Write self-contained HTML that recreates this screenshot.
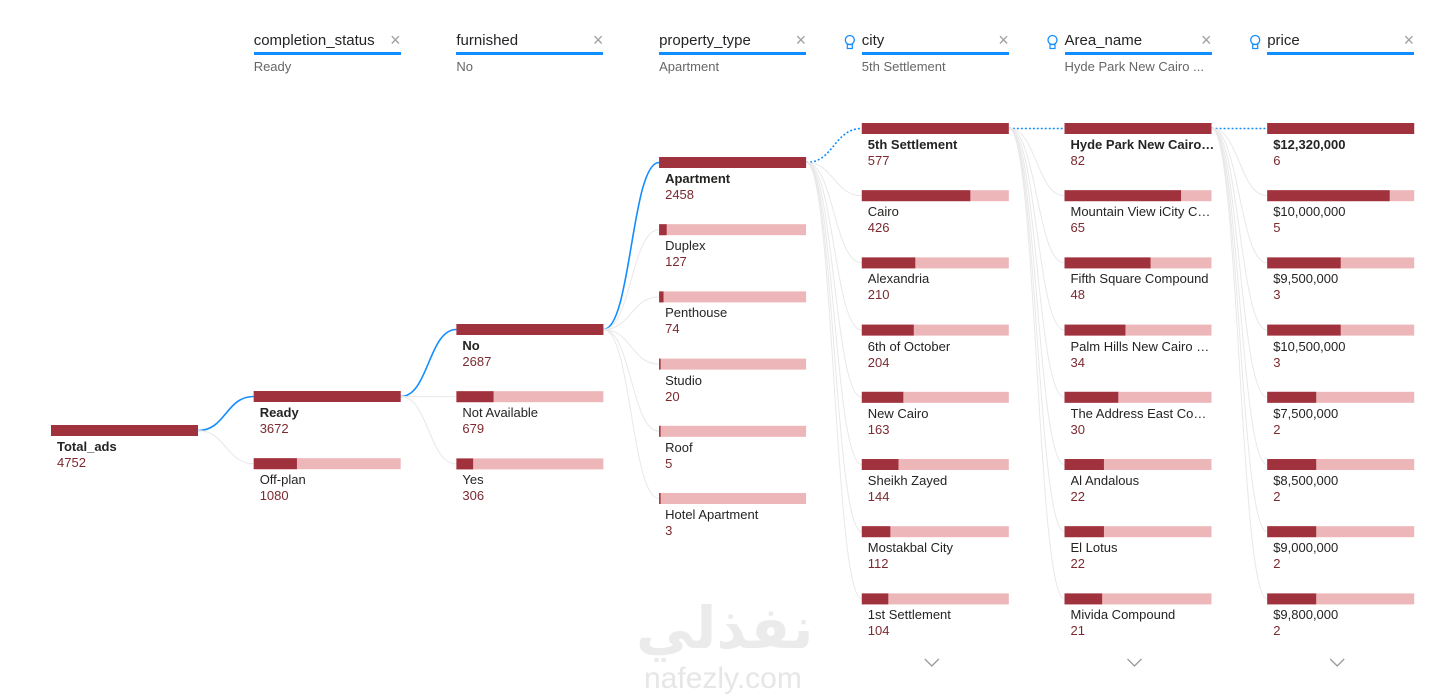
<!DOCTYPE html>
<html><head><meta charset="utf-8"><style>
body{margin:0;width:1455px;height:698px;overflow:hidden;background:#fff;font-family:"Liberation Sans",sans-serif;position:relative}
#tree{position:absolute;left:0;top:0}
.hd{position:absolute;width:147px}
.hd .t{font-size:15px;color:#252423;height:18px;line-height:18px;border-bottom:3px solid #118DFF;padding-bottom:2px;position:relative}
.hd .x{position:absolute;right:0;top:-1px;color:#a0a0a0;font-size:18px;font-weight:300}
.hd .s{font-size:13px;color:#666;margin-top:4px;white-space:nowrap;overflow:hidden}
.lbl{position:absolute;font-size:13px;color:#252423;white-space:nowrap;width:145px;overflow:hidden;text-overflow:ellipsis}
.val{position:absolute;font-size:13px;color:#7B2A30}
.wm{position:absolute;color:#ebebeb;font-weight:bold}
</style></head><body>
<svg id="tree" width="1455" height="698"></svg>
<div class="wm" style="left:636px;top:594px;font-size:58px;font-family:'DejaVu Sans',sans-serif">نفذلي</div>
<div class="wm" style="left:644px;top:662px;font-size:30px;font-weight:normal;color:#e6e6e6">nafezly.com</div>
<script>
const headers=["completion_status","furnished","property_type","city","Area_name","price"];
const subtitles=["Ready","No","Apartment","5th Settlement","Hyde Park New Cairo ...",""];
const col0Names=["Total_ads"];const col0Vals=[4752];
const col1Names=["Ready","Off-plan"];const col1Vals=[3672,1080];
const col2Names=["No","Not Available","Yes"];const col2Vals=[2687,679,306];
const col3Names=["Apartment","Duplex","Penthouse","Studio","Roof","Hotel Apartment"];const col3Vals=[2458,127,74,20,5,3];
const col4Names=["5th Settlement","Cairo","Alexandria","6th of October","New Cairo","Sheikh Zayed","Mostakbal City","1st Settlement"];const col4Vals=[577,426,210,204,163,144,112,104];
const col5Names=["Hyde Park New Cairo Compound","Mountain View iCity Compound","Fifth Square Compound","Palm Hills New Cairo Compound","The Address East Compound","Al Andalous","El Lotus","Mivida Compound"];const col5Vals=[82,65,48,34,30,22,22,21];
const col6Names=["$12,320,000","$10,000,000","$9,500,000","$10,500,000","$7,500,000","$8,500,000","$9,000,000","$9,800,000"];const col6Vals=[6,5,3,3,2,2,2,2];
const cols=[[col0Names,col0Vals],[col1Names,col1Vals],[col2Names,col2Vals],[col3Names,col3Vals],[col4Names,col4Vals],[col5Names,col5Vals],[col6Names,col6Vals]];
const startY=[425,391,324,157,123,123,123];
const X0=51,PITCH=202.7,W=147,ROWH=67.2,BH=11;
const svg=document.getElementById('tree');const NS='http://www.w3.org/2000/svg';
function colX(i){return X0+i*PITCH}
function rowY(c,r){return startY[c]+r*ROWH}
headers.forEach((h,i)=>{
 const d=document.createElement('div');d.className='hd';
 
 
 d.style.left=colX(i+1)+'px';d.style.top='32px';
 d.innerHTML='<div class="t">'+h+'<span class="x">×</span></div><div class="s">'+subtitles[i]+'</div>';
 document.body.appendChild(d);
 if(i>=3){const b=document.createElementNS(NS,'g');
  
  
  const x=colX(i+1)-12,y=42;
  b.innerHTML=`<circle cx="${x}" cy="${y-2}" r="4.5" fill="none" stroke="#118DFF" stroke-width="1.3"/><rect x="${x-2.5}" y="${y+2.5}" width="5" height="4" fill="none" stroke="#118DFF" stroke-width="1.2"/>`;
  svg.appendChild(b);}
});
for(let c=1;c<cols.length;c++){
 const px=colX(c-1)+W,py=rowY(c-1,0)+BH/2;
 cols[c][1].forEach((v,r)=>{
  const cx=colX(c),cy=rowY(c,r)+BH/2,m=(px+cx)/2;
  const p=document.createElementNS(NS,'path');
  p.setAttribute('d',`M${px},${py} C${m},${py} ${m},${cy} ${cx},${cy}`);
  p.setAttribute('fill','none');
  if(r===0){p.setAttribute('stroke','#118DFF');p.setAttribute('stroke-width','1.6');if(c>=4)p.setAttribute('stroke-dasharray','2,2');}
  else{p.setAttribute('stroke','#e8e8e8');p.setAttribute('stroke-width','1');}
  
  
  svg.appendChild(p);
 });
}
cols.forEach(([names,vals],c)=>{
 const max=Math.max(...vals);
 vals.forEach((v,r)=>{
  const x=colX(c),y=rowY(c,r);
  const bg=document.createElementNS(NS,'rect');
  bg.setAttribute('x',x);bg.setAttribute('y',y);bg.setAttribute('width',W);bg.setAttribute('height',BH);bg.setAttribute('fill','#EDB6B9');
  
  
  svg.appendChild(bg);
  const fg=document.createElementNS(NS,'rect');
  fg.setAttribute('x',x);fg.setAttribute('y',y);fg.setAttribute('width',Math.max(1.5,W*v/max));fg.setAttribute('height',BH);fg.setAttribute('fill','#A0323D');
  
  
  svg.appendChild(fg);
  const l=document.createElement('div');l.className='lbl';
  
  
  l.style.left=(x+6)+'px';l.style.top=(y+14)+'px';
  if(r===0){l.style.fontWeight='bold';}
  l.textContent=names[r];document.body.appendChild(l);
  const n=document.createElement('div');n.className='val';
  
  
  n.style.left=(x+6)+'px';n.style.top=(y+30)+'px';n.textContent=v;document.body.appendChild(n);
 });
 if(c>=4){const ch=document.createElementNS(NS,'path');
  const cx=colX(c)+70;
  ch.setAttribute('d',`M${cx-7},659 L${cx},666 L${cx+7},659`);ch.setAttribute('fill','none');ch.setAttribute('stroke','#999');ch.setAttribute('stroke-width','1.3');
  
  
  svg.appendChild(ch);}
});
</script>
</body></html>
